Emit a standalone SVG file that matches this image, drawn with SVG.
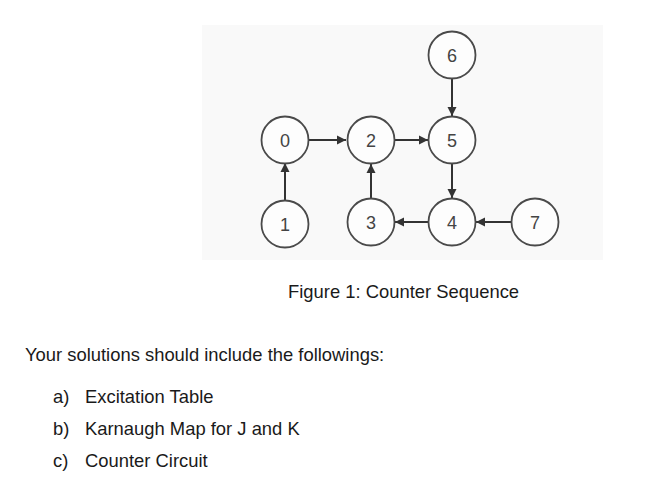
<svg xmlns="http://www.w3.org/2000/svg" width="645" height="495" viewBox="0 0 645 495">
<style>
.node circle{fill:#fdfdfd;stroke:#4a4a4a;stroke-width:1.8}
.node text{font-family:"Liberation Sans",Arial,sans-serif;font-size:18px;fill:#444;text-anchor:middle}
.edge{stroke:#333;stroke-width:2;fill:none;marker-end:url(#ah)}
.txt{font-family:"Liberation Sans",Arial,sans-serif;font-size:18.4px;fill:#1a1a1a}
</style>
<defs>
<marker id="ah" markerUnits="userSpaceOnUse" markerWidth="10" markerHeight="10" refX="9" refY="5" orient="auto">
<path d="M0,0.5 L9,5 L0,9.5 Z" fill="#333"/>
</marker>
</defs>
<rect x="0" y="0" width="645" height="495" fill="#ffffff"/>
<rect x="202" y="25" width="401" height="235" fill="#f9f9f9"/>
<g id="connectors">
<line class="edge" x1="309" y1="140" x2="346" y2="140"/>
<line class="edge" x1="395" y1="140" x2="428" y2="140"/>
<line class="edge" x1="452" y1="79" x2="452" y2="116"/>
<line class="edge" x1="452" y1="164" x2="452" y2="198"/>
<line class="edge" x1="285" y1="200" x2="285" y2="163"/>
<line class="edge" x1="371" y1="198" x2="371" y2="164"/>
<line class="edge" x1="428" y1="222" x2="395" y2="222"/>
<line class="edge" x1="511" y1="222" x2="476" y2="222"/>
</g>
<g id="n6" class="node"><circle cx="452" cy="55" r="23.5"/><text x="452" y="61.5">6</text></g>
<g id="n0" class="node"><circle cx="285" cy="140" r="23.5"/><text x="285" y="146.5">0</text></g>
<g id="n2" class="node"><circle cx="371" cy="140" r="23.5"/><text x="371" y="146.5">2</text></g>
<g id="n5" class="node"><circle cx="452" cy="140" r="23.5"/><text x="452" y="146.5">5</text></g>
<g id="n1" class="node"><circle cx="285" cy="224" r="23.5"/><text x="285" y="230.5">1</text></g>
<g id="n3" class="node"><circle cx="371" cy="222" r="23.5"/><text x="371" y="228.5">3</text></g>
<g id="n4" class="node"><circle cx="452" cy="222" r="23.5"/><text x="452" y="228.5">4</text></g>
<g id="n7" class="node"><circle cx="535" cy="222" r="23.5"/><text x="535" y="228.5">7</text></g>
<text class="txt" x="288" y="298">Figure 1: Counter Sequence</text>
<text class="txt" x="25" y="361">Your solutions should include the followings:</text>
<text class="txt" x="53" y="403">a)</text>
<text class="txt" x="85" y="403">Excitation Table</text>
<text class="txt" x="53" y="435">b)</text>
<text class="txt" x="85" y="435">Karnaugh Map for J and K</text>
<text class="txt" x="53" y="467">c)</text>
<text class="txt" x="85" y="467">Counter Circuit</text>
</svg>
